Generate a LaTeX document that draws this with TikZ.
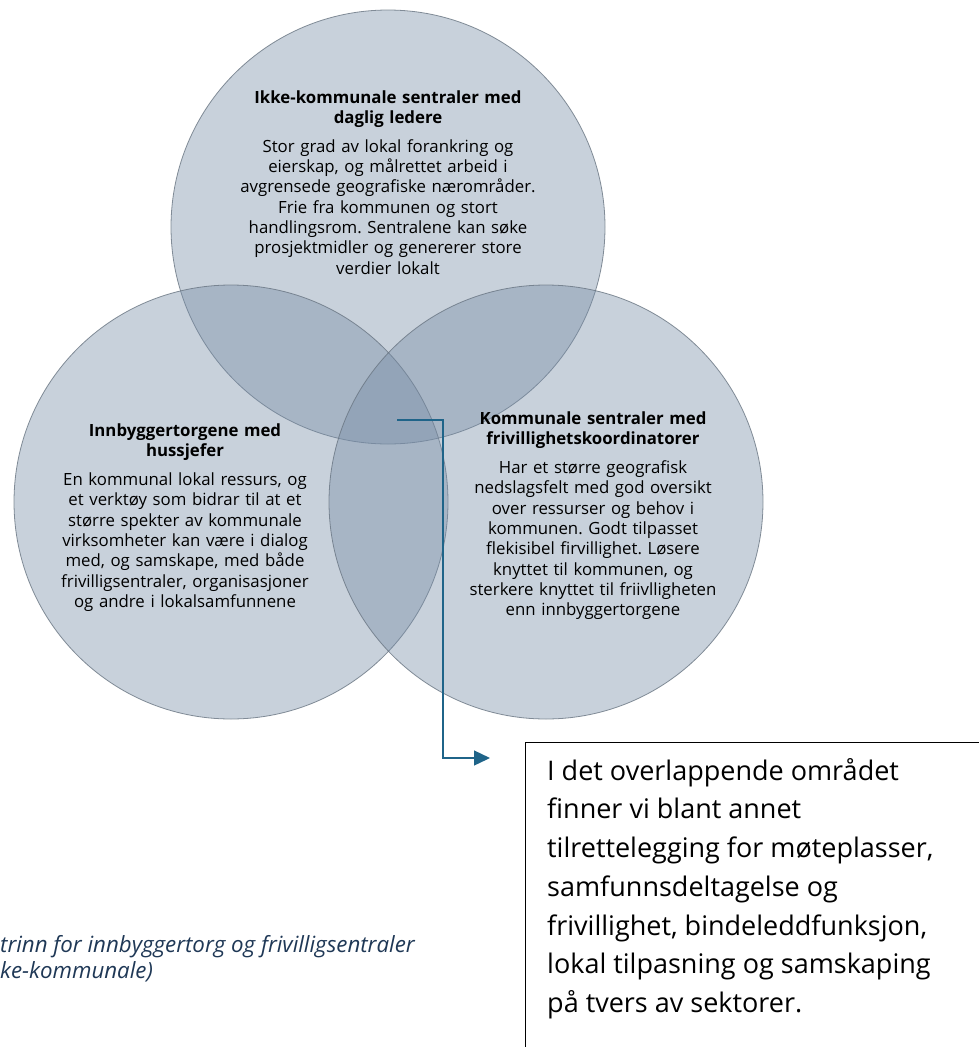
\documentclass[tikz,border=0pt]{standalone}
\usepackage{fontspec}
\setmainfont{Open Sans}
\usetikzlibrary{arrows.meta}
\frenchspacing
\definecolor{vennfill}{RGB}{118,140,166}
\definecolor{vennline}{RGB}{105,117,130}
\definecolor{arrowblue}{RGB}{31,100,137}
\definecolor{capblue}{RGB}{31,56,86}
\begin{document}
\begin{tikzpicture}[x=1pt,y=-1pt,
  venn/.style={circle, minimum size=434pt, inner sep=0pt, fill=vennfill, fill opacity=0.4, draw=vennline, draw opacity=0.8, line width=0.8pt},
  circtext/.style={anchor=north, inner sep=0pt, align=center, text width=320pt, font=\frenchspacing\fontsize{16.8}{20.3}\selectfont},
  boxstyle/.style={draw=black, line width=1.3pt, anchor=north west, minimum width=480pt, minimum height=340pt, inner sep=0pt},
  boxtextstyle/.style={anchor=north west, inner sep=0pt, align=left, font=\fontsize{27}{38.7}\selectfont},
  captionstyle/.style={anchor=north west, inner sep=0pt, align=left, text=capblue, font=\itshape\fontsize{22.3}{26}\selectfont},
  connector/.style={arrowblue, line width=1.3pt, -{Triangle[length=16pt,width=15pt]}}
]
\clip (0,0) rectangle (979,1047);
\fill[white] (0,0) rectangle (979,1047);
\node[venn] (top) at (388,227) {};
\node[venn] (left) at (231,502) {};
\node[venn] (right) at (546,502) {};

\node[circtext] (toptext) at (388,88.6) {\strut\textbf{Ikke-kommunale sentraler med}\\\textbf{daglig ledere}\\[8.7pt]
Stor grad av lokal forankring og\\eierskap, og målrettet arbeid i\\avgrensede geografiske nærområder.\\Frie fra kommunen og stort\\handlingsrom. Sentralene kan søke\\prosjektmidler og genererer store\\verdier lokalt};

\node[circtext] (lefttext) at (185,421.8) {\strut\textbf{Innbyggertorgene med}\\\textbf{hussjefer}\\[8.7pt]
En kommunal lokal ressurs, og\\et verktøy som bidrar til at et\\større spekter av kommunale\\virksomheter kan være i dialog\\med, og samskape, med både\\frivilligsentraler, organisasjoner\\og andre i lokalsamfunnene};

\node[circtext] (righttext) at (593,409.8) {\strut\textbf{Kommunale sentraler med}\\\textbf{frivillighetskoordinatorer}\\[8.7pt]
Har et større geografisk\\nedslagsfelt med god oversikt\\over ressurser og behov i\\kommunen. Godt tilpasset\\flekisibel firvillighet. Løsere\\knyttet til kommunen, og\\sterkere knyttet til friivlligheten\\enn innbyggertorgene};

\node[boxstyle] (box) at (525,742) {};
\node[boxtextstyle] (boxtext) at (547,752.9) {\strut I det overlappende området\\finner vi blant annet\\tilrettelegging for møteplasser,\\samfunnsdeltagelse og\\frivillighet, bindeleddfunksjon,\\lokal tilpasning og samskaping\\på tvers av sektorer.};

\node[captionstyle] (caption) at (0,933.8) {\strut trinn for innbyggertorg og frivilligsentraler\\ke-kommunale)};

\coordinate (arrstart) at (397,420);
\coordinate (arrbendA) at (443,420);
\coordinate (arrbendB) at (443,758);
\coordinate (arrtip) at (490,758);
\draw[connector] (arrstart) -- (arrbendA) -- (arrbendB) -- (arrtip);
\end{tikzpicture}
\end{document}
